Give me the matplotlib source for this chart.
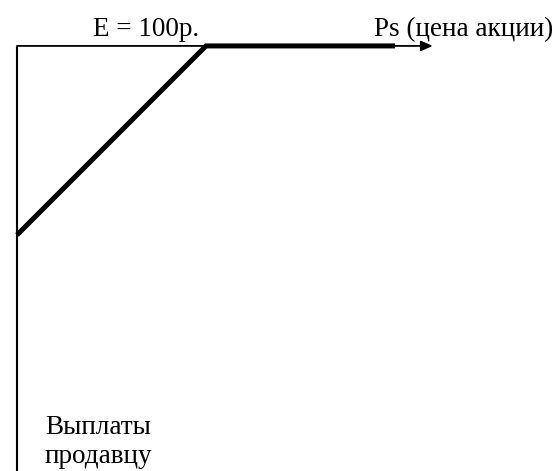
import matplotlib
matplotlib.use("Agg")
import matplotlib.pyplot as plt

# payoff: seller of the contract, strike E = 100
strike = 100
price = [0, strike, 2 * strike]
payoff = [-strike, 0, 0]

x_axis_end = 220
y_axis_bottom = -225

label_strike = "E = 100р."
label_x = "Ps (цена акции)"
label_y = ["Выплаты", "продавцу"]

plt.rcParams['font.family'] = ['Liberation Serif', 'DejaVu Serif']

fig = plt.figure(figsize=(5.55, 4.71), dpi=100)
ax = fig.add_axes([0, 0, 1, 1])
ax.set_xlim(-9.0, 284.7)
ax.set_ylim(-224.9, 24.3)
ax.axis('off')

# axes lines
ax.plot([0, 0], [0, y_axis_bottom], color='black', lw=1.5, solid_capstyle='butt')
ax.annotate('', xy=(x_axis_end, 0), xytext=(0, 0),
            arrowprops=dict(arrowstyle='-|>,head_length=0.5,head_width=0.22',
                            color='black', lw=1.3,
                            mutation_scale=14, shrinkA=0, shrinkB=0))

# payoff line
ax.plot(price, payoff, color='black', lw=3.6, solid_capstyle='butt',
        solid_joinstyle='miter')

fs = 19.5
ax.text(96.5, 5.3, label_strike, fontsize=fs, ha='right', va='baseline')
ax.text(284.0, 5.3, label_x, fontsize=fs, ha='right', va='baseline')
ax.text(14.8, -205.3, label_y[0], fontsize=fs, ha='left', va='baseline')
ax.text(14.8, -220.6, label_y[1], fontsize=fs, ha='left', va='baseline')

fig.savefig('out.png', dpi=100)
